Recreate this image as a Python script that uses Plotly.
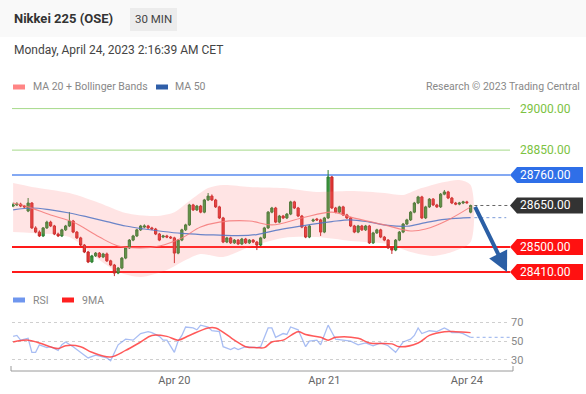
import plotly.graph_objects as go

# ---------------- data ----------------
bar_idx = list(range(123))
opens = [28648,28652,28655,28648,28630,28659,28569,28554,28540,28569,28590,28576,28547,28540,28562,28576,28594,28554,28533,28507,
         28482,28446,28468,28478,28464,28475,28450,28435,28406,28424,28460,28497,28525,28540,28562,28572,28576,28569,28565,28547,
         28536,28540,28536,28533,28478,28525,28562,28580,28652,28634,28648,28626,28670,28684,28670,28645,28605,28518,28533,28515,
         28525,28511,28529,28515,28525,28518,28507,28533,28569,28626,28641,28590,28612,28605,28619,28663,28641,28612,28572,28536,
         28594,28601,28598,28554,28605,28753,28641,28626,28645,28616,28605,28576,28554,28576,28562,28576,28515,28551,28562,28536,
         28525,28497,28489,28525,28554,28583,28598,28626,28659,28681,28605,28645,28673,28652,28645,28691,28699,28677,28659,28655,
         28659,28663,28626]
highs = [28660,28662,28660,28652,28677,28662,28575,28560,28572,28595,28595,28580,28552,28566,28580,28626,28598,28558,28537,28511,
         28486,28472,28482,28482,28479,28480,28454,28439,28428,28464,28500,28529,28544,28566,28580,28582,28580,28573,28569,28551,
         28544,28544,28540,28537,28529,28566,28584,28656,28656,28652,28652,28674,28695,28690,28674,28649,28609,28537,28537,28529,
         28529,28533,28533,28529,28529,28522,28537,28573,28630,28645,28645,28616,28616,28623,28667,28667,28645,28616,28576,28580,
         28603,28605,28602,28609,28778,28757,28645,28649,28649,28620,28609,28580,28580,28580,28580,28580,28555,28566,28566,28540,
         28529,28501,28529,28558,28587,28602,28630,28663,28685,28685,28649,28677,28677,28656,28695,28706,28703,28681,28663,28663,
         28667,28667,28653]
lows = [28644,28648,28644,28641,28626,28565,28550,28536,28536,28565,28572,28543,28536,28536,28558,28572,28550,28529,28503,28478,
        28442,28442,28464,28460,28460,28446,28431,28395,28402,28420,28456,28493,28521,28536,28558,28568,28565,28561,28543,28521,
        28532,28532,28529,28442,28474,28521,28558,28576,28630,28630,28622,28622,28666,28666,28641,28601,28514,28514,28511,28511,
        28507,28507,28511,28511,28514,28489,28503,28529,28565,28622,28586,28586,28601,28601,28615,28637,28608,28568,28532,28532,
        28590,28594,28540,28550,28601,28637,28622,28622,28612,28601,28572,28550,28550,28558,28558,28511,28511,28547,28532,28521,
        28493,28475,28485,28521,28550,28579,28594,28622,28655,28601,28601,28641,28648,28641,28641,28687,28673,28655,28651,28651,
        28655,28656,28622]
closes = [28652,28655,28648,28645,28659,28569,28554,28540,28569,28590,28576,28547,28540,28562,28576,28594,28554,28533,28507,28482,
          28446,28468,28478,28464,28475,28450,28435,28406,28424,28460,28497,28525,28540,28562,28576,28576,28569,28565,28547,28525,
          28540,28536,28533,28478,28525,28562,28580,28652,28634,28648,28626,28670,28684,28670,28645,28605,28518,28533,28515,28525,
          28511,28529,28515,28525,28518,28507,28533,28569,28626,28641,28590,28612,28605,28619,28663,28641,28612,28572,28536,28576,
          28598,28598,28554,28605,28753,28641,28626,28645,28616,28605,28576,28554,28576,28562,28576,28515,28551,28562,28536,28525,
          28497,28489,28525,28554,28583,28598,28626,28659,28681,28605,28645,28673,28652,28645,28691,28699,28677,28659,28655,28659,
          28663,28660,28650]

ma50_idx = [0,5,10,15,20,25,30,35,40,45,50,55,60,65,70,75,80,85,90,95,100,105,110,115,120,122]
ma50 = [28634,28641,28634,28623,28608,28592,28576,28565,28556,28549,28545,28543,28541,28545,28560,28572,28583,28592,28598,28590,
        28578,28575,28588,28600,28605,28606]

ma20_idx = [0,4,10,16,23,28,34,39,45,50,55,63,69,77,85,90,99,106,110,116,122]
ma20 = [28659,28645,28616,28590,28536,28504,28497,28504,28533,28572,28590,28594,28580,28605,28626,28608,28580,28558,28565,28598,28645]

bb_up_idx = [0,5,15,23,30,38,43,47,52,56,63,72,81,90,99,104,108,115,119,122]
bb_up = [28731,28717,28695,28659,28623,28612,28626,28666,28713,28724,28717,28713,28699,28702,28695,28688,28709,28735,28742,28724]
bb_lo_idx = [0,5,15,23,28,34,41,46,50,56,63,72,81,90,100,106,112,117,122]
bb_lo = [28554,28551,28536,28453,28410,28392,28417,28453,28475,28464,28500,28533,28536,28522,28511,28482,28468,28482,28518]

rsi_idx = [0,1,2,3,4,5,6,7,9,10,12,13,14,16,18,20,22,24,25,26,27,28,30,32,34,36,37,39,40,41,43,44,45,46,48,49,50,52,53,55,
           56,58,59,60,62,65,66,68,69,70,72,73,74,76,78,79,81,82,84,86,88,90,92,94,96,98,100,102,104,106,107,108,109,111,113,
           115,116,117,119,120,122]
rsi = [55,56,51,52,53,38,38,46,43,44,40,46,49,44,38,32,35,33,32,29,38,46,52,51,58,60,59,55,51,51,38,50,56,65,64,62,67,65,61,60,
       44,41,43,41,44,43,44,64,64,54,58,57,65,62,44,50,51,46,67,52,51,50,46,48,45,48,45,38,49,52,56,64,58,61,60,
       64,62,59,59,58,54]

rsi_ma_idx = [0,4,7,12,14,18,21,26,30,34,37,41,44,47,52,54,59,62,65,67,69,72,76,78,82,84,86,92,95,101,103,108,111,115,118,122]
rsi_ma = [49,51,48,42,45,44,38,33,40,49,56,55,51,56,64,64,51,44,43,43,49,51,60,57,54,51,54,53,48,47,44,48,56,60,60,59]

resistances = [29000, 28850, 28760]
supports = [28500, 28410]
tick_vals = [43, 83, 121]
tick_text = ["Apr 20", "Apr 21", "Apr 24"]
rsi_levels = [30, 50, 70]

# ---------------- layout geometry ----------------
W_FIG, H_FIG = 586, 394
ML, MR, MT, MB = 12, 76, 100, 22
PW = W_FIG - ML - MR
PH = H_FIG - MT - MB
X_MAX = 132.5

def PX(x):
    return (x - ML) / PW

def PY(y):
    return (MT + PH - y) / PH

fig = go.Figure()

# Bollinger band
fig.add_trace(go.Scatter(
    x=bb_up_idx + bb_lo_idx[::-1], y=bb_up + bb_lo[::-1],
    fill="toself", fillcolor="rgba(255,120,120,0.2)", mode="lines",
    line=dict(width=0, shape="spline", smoothing=0.8), hoverinfo="skip", showlegend=False,
    xaxis="x", yaxis="y"))
fig.add_trace(go.Scatter(x=ma50_idx, y=ma50, mode="lines",
    line=dict(color="rgba(80,115,195,0.85)", width=1.2, shape="spline"), showlegend=False,
    xaxis="x", yaxis="y"))
fig.add_trace(go.Scatter(x=ma20_idx, y=ma20, mode="lines",
    line=dict(color="rgba(245,120,120,0.85)", width=1.1, shape="spline"), showlegend=False,
    xaxis="x", yaxis="y"))
fig.add_trace(go.Candlestick(
    x=bar_idx, open=opens, high=highs, low=lows, close=closes,
    increasing=dict(line=dict(color="#2e7d32", width=1), fillcolor="#3d9b3d"),
    decreasing=dict(line=dict(color="#c62828", width=1), fillcolor="#e53935"),
    whiskerwidth=0, showlegend=False, xaxis="x", yaxis="y"))

# RSI
fig.add_trace(go.Scatter(x=rsi_idx, y=rsi, mode="lines",
    line=dict(color="rgba(110,145,235,0.6)", width=1.3), showlegend=False,
    xaxis="x", yaxis="y2"))
fig.add_trace(go.Scatter(x=rsi_ma_idx, y=rsi_ma, mode="lines",
    line=dict(color="rgba(255,60,60,0.85)", width=1.5, shape="spline"), showlegend=False,
    xaxis="x", yaxis="y2"))

shapes = []
annotations = []

# level lines
level_styles = {29000: ("#a6d98a", 1), 28850: ("#a6d98a", 1), 28760: ("#5b8def", 1.5),
                28500: ("#ff1a1a", 2), 28410: ("#ff1a1a", 2)}
for lv in resistances + supports:
    col, wd = level_styles[lv]
    shapes.append(dict(type="line", xref="paper", x0=0, x1=1, yref="y", y0=lv, y1=lv,
                       line=dict(color=col, width=wd), layer="below"))

# dotted extensions
shapes.append(dict(type="line", xref="x", x0=bar_idx[-1] + 1, x1=X_MAX, yref="y",
                   y0=closes[-1], y1=closes[-1], line=dict(color="#666", width=1, dash="dot")))
shapes.append(dict(type="line", xref="x", x0=ma50_idx[-1] + 1, x1=X_MAX - 1, yref="y",
                   y0=ma50[-1], y1=ma50[-1], line=dict(color="#7a9ad8", width=1, dash="dot")))
shapes.append(dict(type="line", xref="x", x0=rsi_idx[-1], x1=X_MAX, yref="y2",
                   y0=rsi[-1], y1=rsi[-1], line=dict(color="#a9bff0", width=1.2, dash="dot")))

# tag labels
def tag(level, color):
    shapes.append(dict(type="path", xref="paper", yref="y", xsizemode="pixel", ysizemode="pixel",
                       xanchor=1, yanchor=level,
                       path="M 0,0 L 7,8 L 73,8 L 73,-8 L 7,-8 Z",
                       fillcolor=color, line=dict(width=0)))
    annotations.append(dict(xref="paper", yref="y", x=1, y=level, xanchor="left", yanchor="middle",
                            xshift=8, text=f"{level:.2f}", showarrow=False,
                            font=dict(color="white", size=12, family="Roboto")))

for lv in [29000, 28850]:
    annotations.append(dict(xref="paper", yref="y", x=1, y=lv, xanchor="left", yanchor="middle",
                            xshift=8, text=f"{lv:.2f}", showarrow=False,
                            font=dict(color="#7cc242", size=12, family="Roboto")))
tag(28760, "#2f6fe8")
tag(closes[-1], "#333333")
tag(28500, "#ff1111")
tag(28410, "#ff1111")

# forecast arrow
annotations.append(dict(xref="x", yref="y", x=X_MAX - 0.8, y=supports[1],
                        axref="x", ayref="y", ax=bar_idx[-1] + 1, ay=closes[-1],
                        showarrow=True, arrowhead=2, arrowsize=1, arrowwidth=4,
                        arrowcolor="#2b5fa5", standoff=0, text=""))

# header
shapes.append(dict(type="rect", xref="paper", yref="paper", x0=PX(0), x1=PX(586), y0=PY(37), y1=PY(0),
                   fillcolor="#f9f9f9", line=dict(width=0), layer="below"))
shapes.append(dict(type="rect", xref="paper", yref="paper", x0=PX(130), x1=PX(177), y0=PY(31), y1=PY(8),
                   fillcolor="#ececec", line=dict(width=0), layer="below"))
annotations.append(dict(xref="paper", yref="paper", x=PX(12), y=PY(19), xanchor="left", yanchor="middle",
                        text="<b>Nikkei 225 (OSE)</b>", showarrow=False,
                        font=dict(color="#333", size=13, family="Roboto")))
annotations.append(dict(xref="paper", yref="paper", x=PX(153.5), y=PY(19), xanchor="center", yanchor="middle",
                        text="30 MIN", showarrow=False, font=dict(color="#444", size=11.5, family="Roboto")))
annotations.append(dict(xref="paper", yref="paper", x=PX(12), y=PY(50), xanchor="left", yanchor="middle",
                        text="Monday, April 24, 2023 2:16:39 AM CET", showarrow=False,
                        font=dict(color="#444", size=12, family="Roboto")))

# legends
def swatch(x0, y, color):
    shapes.append(dict(type="rect", xref="paper", yref="paper", x0=PX(x0), x1=PX(x0 + 12),
                       y0=PY(y + 2.5), y1=PY(y - 2.5), fillcolor=color, line=dict(width=0)))

def legtext(x, y, s, anchor="left"):
    annotations.append(dict(xref="paper", yref="paper", x=PX(x), y=PY(y), xanchor=anchor, yanchor="middle",
                            text=s, showarrow=False, font=dict(color="#888", size=10.5, family="Roboto")))

swatch(13, 87, "#ff8585")
legtext(31, 87, "MA 20 + Bollinger Bands")
swatch(156, 87, "#2f5ea8")
legtext(173, 87, "MA 50")
legtext(582, 87, "Research © 2023 Trading Central", anchor="right")
swatch(13, 300, "#6f96ee")
legtext(31, 300, "RSI")
swatch(62, 300, "#ff2020")
legtext(80, 300, "9MA")

# bottom axis bracket
shapes.append(dict(type="path", xref="paper", yref="paper",
                   path=f"M {PX(11)},{PY(366)} L {PX(11)},{PY(371)} L {PX(513)},{PY(371)} L {PX(513)},{PY(366)}",
                   line=dict(color="#9a9a9a", width=1)))

fig.update_layout(
    width=W_FIG, height=H_FIG, autosize=False,
    margin=dict(l=ML, r=MR, t=MT, b=MB, autoexpand=False),
    paper_bgcolor="white", plot_bgcolor="white",
    font=dict(family="Roboto", color="#666"),
    showlegend=False, boxgap=0.15,
    shapes=shapes, annotations=annotations,
    xaxis=dict(range=[-0.3, X_MAX], anchor="y2", rangeslider=dict(visible=False), automargin=False,
               showgrid=False, zeroline=False, showline=False, ticks="",
               tickvals=tick_vals, ticktext=tick_text, tickfont=dict(size=11, color="#666")),
    yaxis=dict(domain=[0.32, 1.0], range=[28363, 29031], showgrid=False, zeroline=False, automargin=False,
               showticklabels=False, fixedrange=True),
    yaxis2=dict(domain=[0.0, 0.2206], range=[17, 81], side="right", tickvals=rsi_levels, automargin=False,
                showgrid=True, gridcolor="#cfcfcf", griddash="dot", gridwidth=1,
                zeroline=False, ticks="", tickfont=dict(size=11, color="#888")),
)

fig.write_html("out.html",
               config={"displayModeBar": False, "responsive": False},
               post_script="document.body.style.margin='0';document.body.style.overflow='hidden';")
